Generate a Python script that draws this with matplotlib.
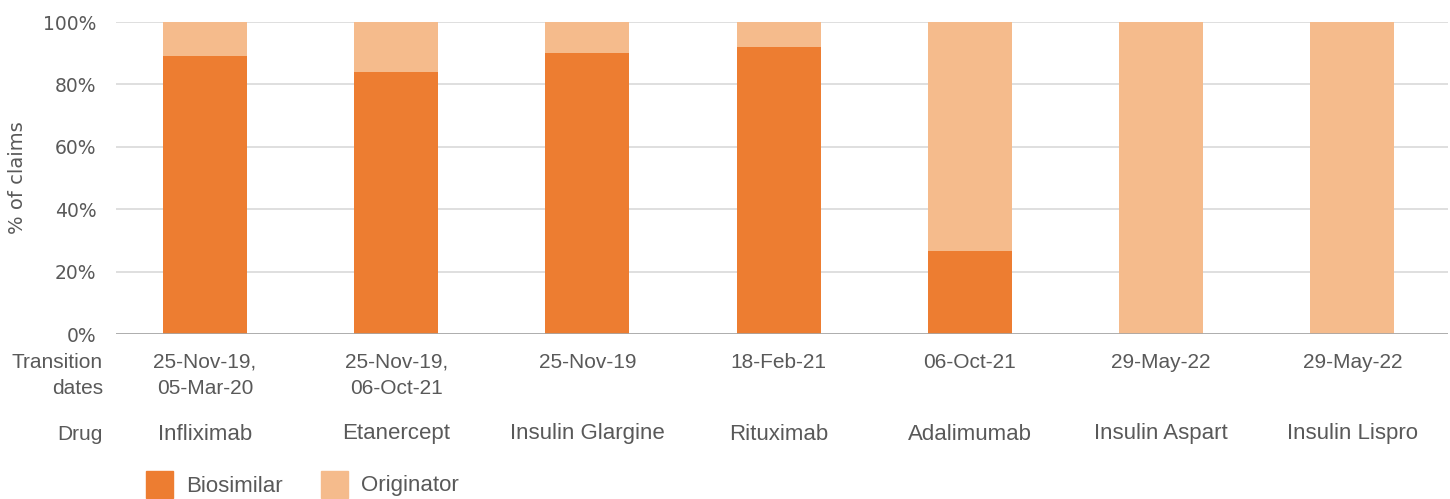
import matplotlib
matplotlib.use("Agg")
import matplotlib.pyplot as plt
import matplotlib.transforms as mtransforms
from matplotlib.patches import Rectangle
from matplotlib.ticker import PercentFormatter

drugs = ["Infliximab", "Etanercept", "Insulin Glargine", "Rituximab",
         "Adalimumab", "Insulin Aspart", "Insulin Lispro"]
transition_dates = ["25-Nov-19,\n05-Mar-20", "25-Nov-19,\n06-Oct-21", "25-Nov-19",
                    "18-Feb-21", "06-Oct-21", "29-May-22", "29-May-22"]
biosimilar = [89.1, 84.0, 90.1, 92.0, 26.6, 0.0, 0.0]
originator = [100 - b for b in biosimilar]

BIO = "#ED7D31"
ORIG = "#F5BB8C"
TXT = "#595959"
COND = ["Liberation Sans Narrow", "Liberation Sans", "DejaVu Sans"]

W, H = 1450, 499
fig = plt.figure(figsize=(W / 100, H / 100), dpi=100)
ax = fig.add_axes([116 / W, 1 - 334 / H, (1448 - 116) / W, (334 - 22) / H])

x = list(range(len(drugs)))
ax.bar(x, biosimilar, width=0.44, color=BIO, zorder=2)
ax.bar(x, originator, bottom=biosimilar, width=0.44, color=ORIG, zorder=2)

ax.set_ylim(0, 100)
ax.set_xlim(-0.465, 6.5)
ax.set_yticks([0, 20, 40, 60, 80, 100])
ax.yaxis.set_major_formatter(PercentFormatter(decimals=0))
ax.grid(axis="y", color="#d9d9d9", lw=1.2, zorder=0)
ax.axhline(0, color="#a6a6a6", lw=1.2, zorder=3)
for s in ax.spines.values():
    s.set_visible(False)
ax.tick_params(axis="y", length=0, labelsize=13.5, labelcolor=TXT, pad=14)
ax.set_xticks([])
ax.set_ylabel("% of claims", fontsize=14, color=TXT, labelpad=12)

tr = mtransforms.blended_transform_factory(ax.transData, fig.transFigure)
ftr = fig.transFigure


def fy(py):
    return 1 - py / H


for i in x:
    ax.text(i, fy(353), transition_dates[i], transform=tr, ha="center", va="top",
            fontsize=15, color=TXT, linespacing=1.45, family=COND)
    ax.text(i, fy(434), drugs[i], transform=tr, ha="center", va="center",
            fontsize=16, color=TXT, family=COND)

fig.text(103 / W, fy(353), "Transition\ndates", ha="right", va="top",
         fontsize=15, color=TXT, linespacing=1.45, family=COND)
fig.text(103 / W, fy(434), "Drug", ha="right", va="center", fontsize=15,
         color=TXT, family=COND)

# legend
for px, col, lab in [(146, BIO, "Biosimilar"), (321, ORIG, "Originator")]:
    fig.patches.append(Rectangle((px / W, fy(498)), 27 / W, 27 / H,
                                 transform=ftr, color=col))
    fig.text((px + 40) / W, fy(486), lab, ha="left", va="center",
             fontsize=16, color=TXT, family=COND)

fig.savefig("out.png", dpi=100)
